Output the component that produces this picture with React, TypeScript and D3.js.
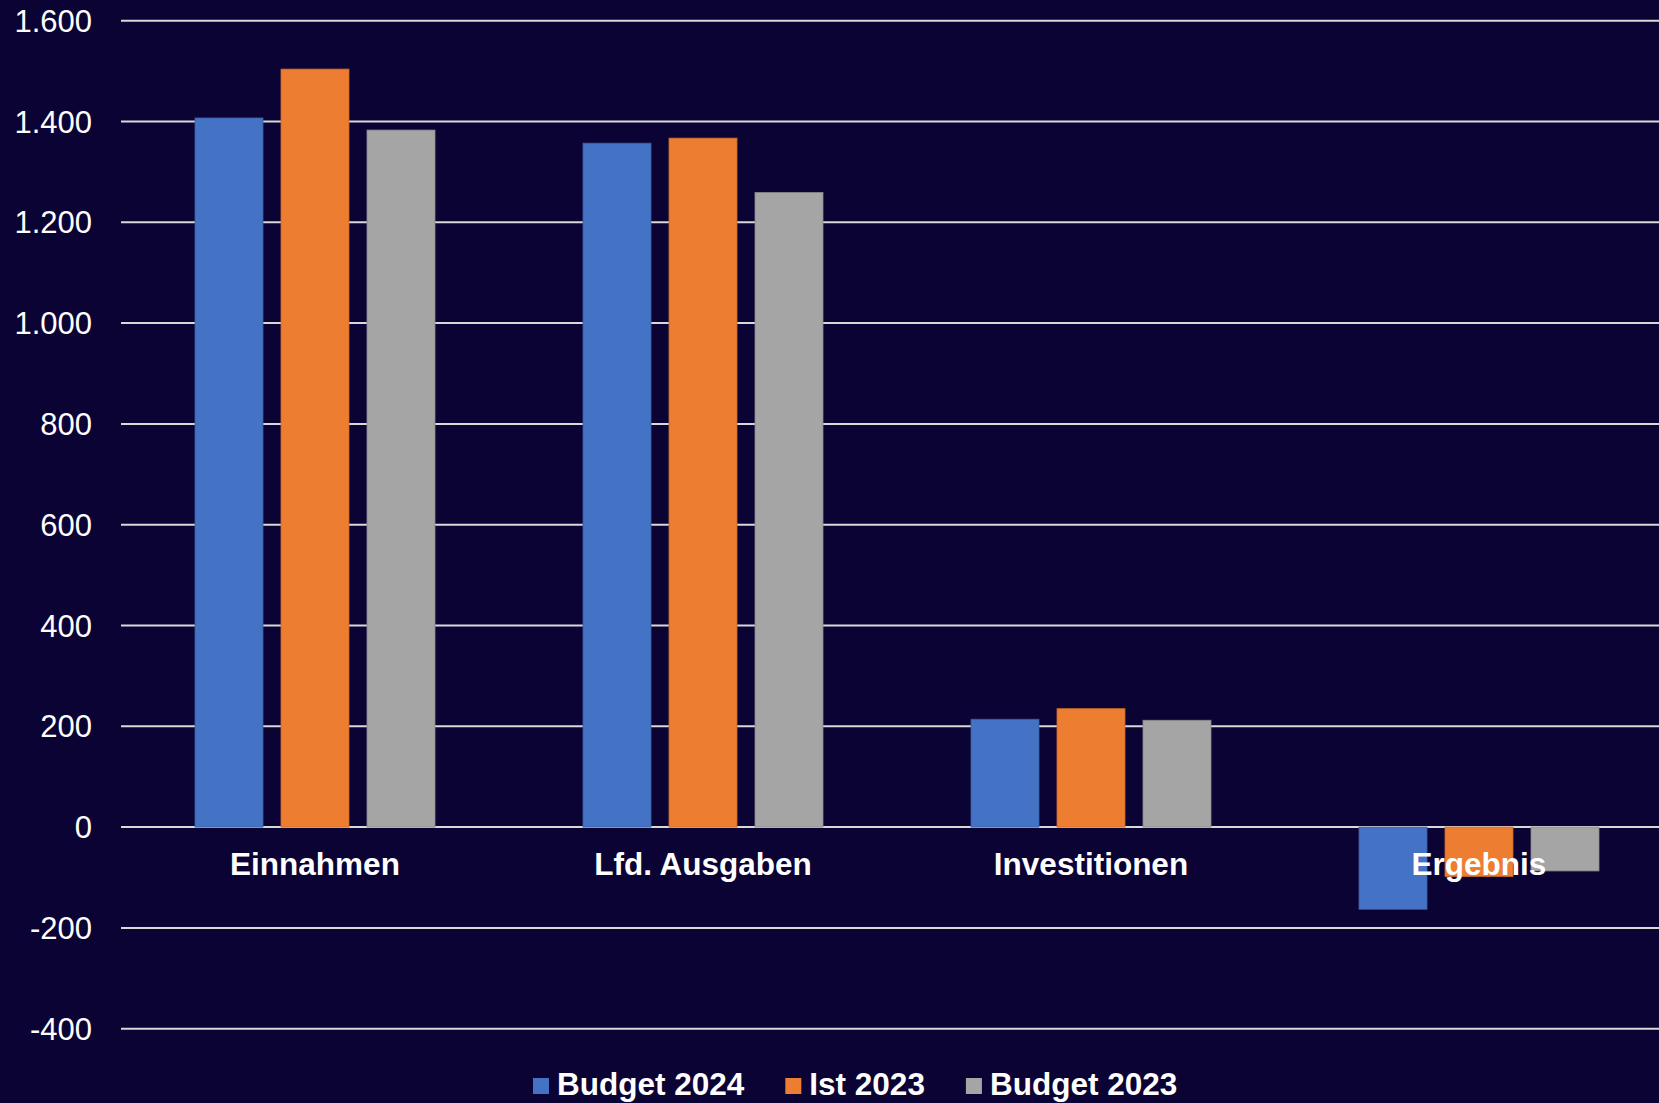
import { useRef, useEffect } from 'react'
import * as d3 from 'd3'

const WIDTH = 1659
const HEIGHT = 1103
const BG = '#0c0335'

const categories = ['Einnahmen', 'Lfd. Ausgaben', 'Investitionen', 'Ergebnis']
const seriesNames = ['Budget 2024', 'Ist 2023', 'Budget 2023']
const seriesColors = ['#4472C4', '#ED7D31', '#A5A5A5']
const budget2024 = [1407, 1357, 214, -163]
const ist2023 = [1504, 1367, 235, -98]
const budget2023 = [1383, 1259, 212, -87]
const yTicks = [-400, -200, 0, 200, 400, 600, 800, 1000, 1200, 1400, 1600]

const seriesValues = [budget2024, ist2023, budget2023]

function formatTick(v: number): string {
  return d3.format(',')(v).replace(/,/g, '.').replace('\u2212', '-')
}

export default function App() {
  const svgRef = useRef<SVGSVGElement>(null)

  useEffect(() => {
    if (!svgRef.current) return
    const svg = d3.select(svgRef.current)
    svg.selectAll('*').remove()

    svg.append('rect').attr('width', WIDTH).attr('height', HEIGHT).attr('fill', BG)

    const plotLeft = 121
    const step = 388
    const x0 = d3
      .scaleBand()
      .domain(categories)
      .range([plotLeft, plotLeft + step * categories.length])
    const x1 = d3
      .scaleBand()
      .domain(seriesNames)
      .range([74, 314])
      .paddingInner(18 / 86)
    const y = d3.scaleLinear().domain([-400, 1600]).range([1028.7, 20.7])

    // gridlines
    svg
      .append('g')
      .selectAll('line')
      .data(yTicks)
      .join('line')
      .attr('x1', plotLeft)
      .attr('x2', WIDTH)
      .attr('y1', (d) => y(d))
      .attr('y2', (d) => y(d))
      .attr('stroke', '#d9d9d9')
      .attr('stroke-width', 2)

    // y tick labels
    svg
      .append('g')
      .selectAll('text')
      .data(yTicks)
      .join('text')
      .attr('x', 92)
      .attr('y', (d) => y(d) + 11)
      .attr('text-anchor', 'end')
      .attr('fill', '#ffffff')
      .style('font-family', '"Liberation Sans", Arial, sans-serif')
      .style('font-size', '31px')
      .text((d) => formatTick(d))

    // bars
    const rows = categories.flatMap((c, ci) =>
      seriesNames.map((s, si) => ({ cat: c, series: s, si, value: seriesValues[si][ci] })),
    )
    svg
      .append('g')
      .selectAll('rect')
      .data(rows)
      .join('rect')
      .attr('x', (d) => (x0(d.cat) ?? 0) + (x1(d.series) ?? 0))
      .attr('y', (d) => y(Math.max(0, d.value)))
      .attr('width', x1.bandwidth())
      .attr('height', (d) => Math.abs(y(d.value) - y(0)))
      .attr('fill', (d) => seriesColors[d.si])
      .attr('stroke', (d) => d3.color(seriesColors[d.si])!.darker(0.5).formatHex())
      .attr('stroke-width', 0.8)

    // category labels
    svg
      .append('g')
      .selectAll('text')
      .data(categories)
      .join('text')
      .attr('x', (d) => (x0(d) ?? 0) + x0.bandwidth() / 2)
      .attr('y', 875)
      .attr('text-anchor', 'middle')
      .attr('fill', '#ffffff')
      .style('font-family', '"Liberation Sans", Arial, sans-serif')
      .style('font-size', '31.5px')
      .style('font-weight', 'bold')
      .text((d) => d)

    // legend
    const legend = svg.append('g')
    let cx = 533
    seriesNames.forEach((name, i) => {
      legend
        .append('rect')
        .attr('x', cx)
        .attr('y', 1078)
        .attr('width', 16)
        .attr('height', 16)
        .attr('fill', seriesColors[i])
      const t = legend
        .append('text')
        .attr('x', cx + 24)
        .attr('y', 1095)
        .attr('fill', '#ffffff')
        .style('font-family', '"Liberation Sans", Arial, sans-serif')
        .style('font-size', '31.5px')
        .style('font-weight', 'bold')
        .text(name)
      const w = (t.node() as SVGTextElement).getComputedTextLength()
      cx += 24 + w + 41
    })
  }, [])

  return (
    <svg
      ref={svgRef}
      width={WIDTH}
      height={HEIGHT}
      style={{ position: 'absolute', left: 0, top: 0, display: 'block' }}
    />
  )
}
